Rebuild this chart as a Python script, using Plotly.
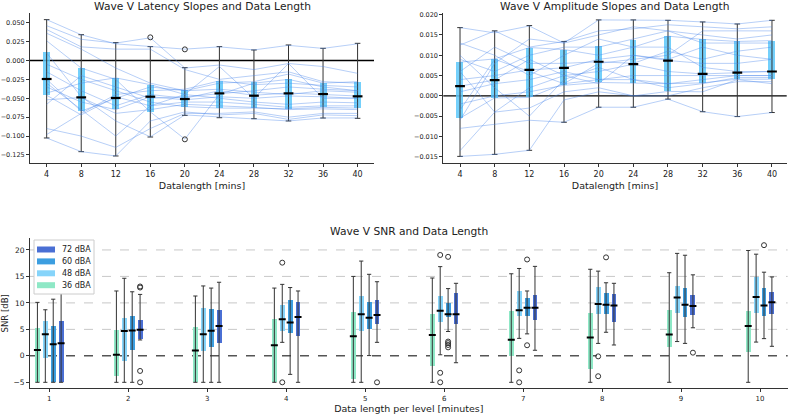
import plotly.graph_objects as go

# ---- top panels: data length (mins) ----
datalength = [4, 8, 12, 16, 20, 24, 28, 32, 36, 40]

# latency slopes: box stats
lat_lo = [-0.1025, -0.1206, -0.1263, -0.1012, -0.0726, -0.0757, -0.0770, -0.0800, -0.0761, -0.0765]
lat_q1 = [-0.0460, -0.0668, -0.0646, -0.0677, -0.0610, -0.0633, -0.0633, -0.0646, -0.0620, -0.0633]
lat_med = [-0.0245, -0.0488, -0.0496, -0.0479, -0.0510, -0.0435, -0.0466, -0.0435, -0.0444, -0.0474]
lat_q3 = [0.0108, -0.0104, -0.0236, -0.0320, -0.0390, -0.0272, -0.0290, -0.0250, -0.0302, -0.0285]
lat_hi = [0.0540, 0.0341, 0.0236, 0.0183, -0.0095, 0.0183, 0.0139, 0.0205, 0.0161, 0.0227]
lat_out_x = [16, 20, 20]
lat_out_y = [0.0306, 0.0147, -0.1043]

# latency slopes per subject
lat_subjects = [
    [0.054, 0.034, 0.022, 0.018, 0.015, 0.018, 0.014, 0.020, 0.016, 0.022],
    [0.046, 0.028, 0.023, 0.030, -0.010, -0.006, -0.012, -0.004, -0.008, -0.017],
    [0.041, 0.018, 0.015, 0.015, -0.012, -0.025, -0.020, -0.015, -0.028, -0.030],
    [0.036, 0.015, -0.010, -0.030, -0.040, -0.030, -0.028, -0.018, -0.030, -0.028],
    [0.026, -0.010, -0.025, -0.068, -0.104, -0.045, -0.030, -0.025, -0.035, -0.040],
    [0.010, -0.048, -0.080, -0.101, -0.072, -0.075, -0.077, -0.080, -0.076, -0.076],
    [-0.005, -0.025, -0.040, -0.055, -0.061, -0.063, -0.063, -0.064, -0.062, -0.063],
    [-0.015, -0.040, -0.060, -0.045, -0.050, -0.040, -0.046, -0.043, -0.045, -0.047],
    [-0.025, -0.067, -0.050, -0.035, -0.040, -0.038, -0.042, -0.045, -0.040, -0.042],
    [-0.035, -0.055, -0.065, -0.048, -0.052, -0.048, -0.050, -0.047, -0.048, -0.050],
    [-0.043, -0.030, -0.023, -0.032, -0.045, -0.050, -0.055, -0.058, -0.055, -0.056],
    [-0.046, -0.072, -0.048, -0.060, -0.055, -0.055, -0.058, -0.062, -0.060, -0.060],
    [-0.052, -0.049, -0.070, -0.065, -0.058, -0.060, -0.062, -0.065, -0.064, -0.065],
    [-0.058, -0.020, -0.035, -0.050, -0.048, -0.044, -0.040, -0.035, -0.038, -0.040],
    [-0.090, -0.100, -0.115, -0.090, -0.070, -0.070, -0.068, -0.075, -0.070, -0.070],
    [-0.1025, -0.1206, -0.1263, -0.080, -0.068, -0.072, -0.070, -0.078, -0.072, -0.073],
    [-0.098, -0.070, -0.045, -0.040, -0.038, -0.027, -0.032, -0.030, -0.033, -0.035],
    [-0.030, -0.065, -0.100, -0.060, -0.045, -0.008, -0.050, -0.004, -0.050, -0.050],
]

# amplitude slopes: box stats
amp_lo = [-0.0149, -0.0144, -0.0134, -0.0065, -0.0028, -0.0028, -0.0008, -0.0039, -0.0051, -0.0041]
amp_q1 = [-0.0055, -0.0005, -0.0004, 0.0026, 0.0033, 0.0032, 0.0011, 0.0032, 0.0041, 0.0041]
amp_med = [0.0024, 0.0039, 0.0064, 0.0069, 0.0084, 0.0078, 0.0087, 0.0054, 0.0057, 0.0060]
amp_q3 = [0.0083, 0.0091, 0.0119, 0.0114, 0.0123, 0.0137, 0.0147, 0.0139, 0.0134, 0.0136]
amp_hi = [0.0168, 0.0160, 0.0173, 0.0134, 0.0187, 0.0187, 0.0186, 0.0182, 0.0177, 0.0186]

amp_subjects = [
    [0.0168, 0.0155, 0.0172, 0.0130, 0.0187, 0.0187, 0.0186, 0.0182, 0.0177, 0.0186],
    [0.0125, 0.0160, 0.0120, 0.0134, 0.0160, 0.0165, 0.0175, 0.0170, 0.0165, 0.0170],
    [0.0090, 0.0060, 0.0100, 0.0120, 0.0120, 0.0140, 0.0160, 0.0150, 0.0140, 0.0150],
    [0.0083, 0.0091, 0.0119, 0.0114, 0.0100, 0.0120, 0.0147, 0.0139, 0.0134, 0.0136],
    [0.0060, 0.0120, 0.0080, 0.0080, 0.0084, 0.0080, 0.0110, 0.0090, 0.0110, 0.0120],
    [0.0040, 0.0050, 0.0064, 0.0069, 0.0090, 0.0100, 0.0087, 0.0080, 0.0080, 0.0090],
    [0.0024, 0.0039, 0.0090, 0.0050, 0.0060, 0.0078, 0.0060, 0.0054, 0.0057, 0.0060],
    [0.0010, 0.0030, 0.0040, 0.0060, 0.0040, 0.0050, 0.0050, 0.0050, 0.0050, 0.0050],
    [-0.0020, 0.0000, 0.0010, 0.0026, 0.0033, 0.0032, 0.0030, 0.0032, 0.0041, 0.0041],
    [-0.0055, -0.0005, -0.0004, 0.0030, 0.0040, 0.0040, 0.0020, 0.0030, 0.0045, 0.0045],
    [-0.0080, -0.0070, -0.0060, -0.0065, -0.0028, -0.0028, -0.0008, -0.0039, -0.0051, -0.0041],
    [-0.0149, -0.0144, -0.0134, -0.0010, 0.0010, 0.0000, 0.0011, 0.0010, 0.0040, 0.0030],
    [-0.0135, -0.0040, -0.0030, 0.0010, 0.0020, 0.0000, 0.0000, 0.0020, 0.0035, 0.0035],
    [0.0130, 0.0100, 0.0050, 0.0100, 0.0140, 0.0120, 0.0120, 0.0070, 0.0060, 0.0060],
    [-0.0060, 0.0080, 0.0140, 0.0130, 0.0150, 0.0170, 0.0160, 0.0130, 0.0130, 0.0130],
    [0.0100, 0.0020, -0.0050, 0.0040, 0.0070, 0.0040, 0.0030, 0.0040, 0.0050, 0.0050],
    [-0.0035, 0.0090, 0.0060, 0.0030, 0.0080, 0.0090, 0.0100, 0.0160, 0.0160, 0.0160],
    [0.0060, -0.0040, 0.0020, 0.0050, 0.0030, 0.0100, 0.0090, 0.0120, 0.0100, 0.0090],
]

# ---- bottom panel: SNR per level ----
minutes = [1, 2, 3, 4, 5, 6, 7, 8, 9, 10]
levels = ["36 dBA", "48 dBA", "60 dBA", "72 dBA"]
level_colors = ["#8ee8c6", "#86d4fa", "#3c9ee0", "#4a6fd4"]
level_offsets = [-0.15, -0.05, 0.05, 0.15]

snr_lo = [
    [-5, -5, -5, -5, -5, -5, -5, -5, -5, -5],
    [-5, -5, -5, 2.55, -5, 0.2, 3.3, 2.35, 2.7, 2.6],
    [-5, -5, -5, -3.5, 0.05, 4.6, 4.15, 4.45, 2.35, 3.25],
    [-5, 3.0, -5, -5, 2.55, -1.3, 1.05, 2.05, 5.3, 1.8],
]
snr_q1 = [
    [-5, -3.8, -5, -5, -4.4, -2.0, -0.05, -2.55, 1.55, 0.65],
    [-0.5, -1.1, 0.9, 4.6, 4.7, 6.35, 7.4, 7.85, 7.95, 8.05],
    [-5, 1.05, 1.55, 4.3, 4.95, 7.2, 7.4, 7.85, 7.35, 7.45],
    [-5, 3.1, 2.4, 3.7, 6.0, 6.0, 6.65, 6.35, 7.6, 7.85],
]
snr_med = [
    [1.1, 0.2, 1.0, 2.0, 3.7, 3.95, 3.05, 3.45, 4.05, 5.65],
    [4.1, 4.7, 4.1, 6.9, 7.85, 8.5, 8.6, 9.8, 11.0, 11.1],
    [2.2, 4.8, 4.75, 6.3, 7.2, 7.85, 9.1, 9.65, 9.65, 9.5],
    [2.4, 4.95, 5.65, 7.35, 7.7, 7.85, 9.1, 9.5, 9.4, 10.1],
]
snr_q3 = [
    [5.2, 4.9, 5.45, 6.85, 8.2, 7.85, 8.4, 7.95, 8.55, 8.5],
    [6.5, 7.1, 9.0, 9.6, 11.3, 11.25, 12.2, 13.0, 13.05, 14.8],
    [5.6, 7.5, 8.85, 10.4, 10.05, 9.9, 10.8, 11.75, 12.8, 12.75],
    [6.6, 6.7, 8.6, 10.1, 10.5, 11.8, 11.45, 11.6, 11.4, 12.05],
]
snr_hi = [
    [10.1, 12.25, 11.3, 12.8, 15.0, 14.7, 15.5, 16.35, 15.7, 19.9],
    [8.7, 14.65, 13.2, 13.5, 17.9, 16.85, 16.5, 16.0, 19.35, 19.2],
    [10.7, 12.1, 12.8, 12.9, 15.4, 12.7, 12.25, 13.8, 19.0, 15.8],
    [12.3, 11.6, 13.9, 12.25, 14.0, 13.7, 16.9, 13.7, 15.3, 14.9],
]
# outliers: (minutes, level index, SNR)
snr_outliers = [
    (2, 3, 13.1), (2, 3, 12.9), (2, 3, -2.85), (2, 3, -5),
    (4, 1, 17.6), (4, 1, -5), (5, 3, -5),
    (6, 1, 19.05), (6, 1, -3.2), (6, 1, -5),
    (6, 2, 18.7), (6, 2, 2.7), (6, 2, 2.4), (6, 2, 2.05), (6, 2, 1.6),
    (7, 1, -2.75), (7, 1, -5), (7, 2, 18.2), (7, 2, 2.0),
    (8, 1, -0.1), (8, 1, -3.85), (8, 2, 18.6),
    (9, 3, 0.6), (10, 2, 20.9),
]

FONT = "DejaVu Sans"
DARK = "#333333"


def add_boxes(fig, x, lo, q1, med, q3, hi, color, width, xa, ya, cap=4):
    fig.add_trace(go.Bar(x=x, y=[b - a for a, b in zip(q1, q3)], base=q1,
                         width=width, marker=dict(color=color, line=dict(width=0)),
                         showlegend=False, xaxis=xa, yaxis=ya, hoverinfo="skip"))
    wx, wy = [], []
    for xi, a, b in zip(x, lo, hi):
        wx += [xi, xi, None]
        wy += [a, b, None]
    fig.add_trace(go.Scatter(x=wx, y=wy, mode="lines", line=dict(color=DARK, width=1),
                             showlegend=False, xaxis=xa, yaxis=ya, hoverinfo="skip"))
    fig.add_trace(go.Scatter(x=list(x) + list(x), y=list(lo) + list(hi), mode="markers",
                             marker=dict(symbol="line-ew", size=cap,
                                         line=dict(color=DARK, width=1)),
                             showlegend=False, xaxis=xa, yaxis=ya, hoverinfo="skip"))


def add_medians(fig, x, med, px_width, xa, ya, lw=2.2):
    fig.add_trace(go.Scatter(x=x, y=med, mode="markers",
                             marker=dict(symbol="line-ew", size=px_width,
                                         line=dict(color="black", width=lw)),
                             showlegend=False, xaxis=xa, yaxis=ya, hoverinfo="skip"))


fig = go.Figure()

# top-left: latency
box_col = "rgba(92,200,250,0.85)"
line_col = "rgba(74,134,236,0.5)"
add_boxes(fig, datalength, lat_lo, lat_q1, lat_med, lat_q3, lat_hi, box_col, 0.8, "x", "y")
for s in lat_subjects:
    fig.add_trace(go.Scatter(x=datalength, y=s, mode="lines",
                             line=dict(color=line_col, width=0.8),
                             showlegend=False, xaxis="x", yaxis="y", hoverinfo="skip"))
add_medians(fig, datalength, lat_med, 7, "x", "y")
fig.add_trace(go.Scatter(x=lat_out_x, y=lat_out_y, mode="markers",
                         marker=dict(symbol="circle-open", size=5, color=DARK,
                                     line=dict(width=1)),
                         showlegend=False, xaxis="x", yaxis="y"))

# top-right: amplitude
add_boxes(fig, datalength, amp_lo, amp_q1, amp_med, amp_q3, amp_hi, box_col, 0.8, "x2", "y2")
for s in amp_subjects:
    fig.add_trace(go.Scatter(x=datalength, y=s, mode="lines",
                             line=dict(color=line_col, width=0.8),
                             showlegend=False, xaxis="x2", yaxis="y2", hoverinfo="skip"))
add_medians(fig, datalength, amp_med, 7, "x2", "y2")

# bottom: SNR
for i, lev in enumerate(levels):
    xs = [m + level_offsets[i] for m in minutes]
    add_boxes(fig, xs, snr_lo[i], snr_q1[i], snr_med[i], snr_q3[i], snr_hi[i],
              level_colors[i], 0.062, "x3", "y3", cap=3)
    add_medians(fig, xs, snr_med[i], 5, "x3", "y3", lw=2)
fig.add_trace(go.Scatter(x=[m + level_offsets[k] for m, k, v in snr_outliers],
                         y=[v for m, k, v in snr_outliers], mode="markers",
                         marker=dict(symbol="circle-open", size=5, color=DARK,
                                     line=dict(width=1)),
                         showlegend=False, xaxis="x3", yaxis="y3"))

W, H = 789, 415
px = lambda v: v / W
py = lambda v: 1 - v / H

axis_common = dict(showline=True, linecolor=DARK, linewidth=1, ticks="outside",
                   ticklen=3, tickcolor=DARK, showgrid=False, zeroline=False,
                   mirror=False, automargin=False)

annotations = [
    dict(text="Wave V Latency Slopes and Data Length", x=px(202), y=py(6)),
    dict(text="Wave V Amplitude Slopes and Data Length", x=px(615), y=py(6)),
    dict(text="Wave V SNR and Data Length", x=px(409), y=py(231)),
]
for a in annotations:
    a.update(xref="paper", yref="paper", showarrow=False, font=dict(size=10.7),
             xanchor="center", yanchor="middle")

shapes = [
    dict(type="line", xref="x domain", yref="y", x0=0, x1=1, y0=0, y1=0,
         line=dict(color="black", width=1.3), layer="below"),
    dict(type="line", xref="x2 domain", yref="y2", x0=0, x1=1, y0=0, y1=0,
         line=dict(color="black", width=1.3), layer="below"),
    dict(type="line", xref="x3 domain", yref="y3", x0=0, x1=1, y0=0, y1=0,
         line=dict(color="#555555", width=1.5, dash="dash"), layer="below"),
] + [
    dict(type="line", xref="x3 domain", yref="y3", x0=0, x1=1, y0=g, y1=g,
         line=dict(color="#c8c8c8", width=1, dash="dash"), layer="below")
    for g in [5, 10, 15, 20]
]

# legend box (top-left of SNR panel), entries from 72 dBA down to 36 dBA
shapes.append(dict(type="rect", xref="paper", yref="paper",
                   x0=px(34), x1=px(94), y0=py(294), y1=py(240),
                   fillcolor="white", line=dict(color="#cccccc", width=1), layer="above"))
for j, i in enumerate(reversed(range(len(levels)))):
    yc = 249.5 + 11.9 * j
    shapes.append(dict(type="rect", xref="paper", yref="paper",
                       x0=px(37), x1=px(55), y0=py(yc + 3), y1=py(yc - 3),
                       fillcolor=level_colors[i], line=dict(width=0), layer="above"))
    annotations.append(dict(text=levels[i], x=px(60), y=py(yc), xref="paper",
                            yref="paper", showarrow=False, xanchor="left",
                            yanchor="middle", font=dict(size=8)))

fig.update_layout(
    width=W, height=H, margin=dict(l=0, r=0, t=0, b=0),
    paper_bgcolor="white", plot_bgcolor="white",
    font=dict(family=FONT, color="#222"),
    barmode="overlay", bargap=0, showlegend=False,
    xaxis=dict(domain=[px(30), px(374)], range=[2.07, 41.9], anchor="y",
               tickvals=datalength, tickfont=dict(size=8),
               title=dict(text="Datalength [mins]", font=dict(size=9.5), standoff=4),
               **axis_common),
    yaxis=dict(domain=[py(163), py(13)], range=[-0.1356, 0.0628], anchor="x",
               tickvals=[0.05, 0.025, 0, -0.025, -0.05, -0.075, -0.1, -0.125],
               tickformat=".3f", tickfont=dict(size=6.5), **axis_common),
    xaxis2=dict(domain=[px(443.3), px(786.7)], range=[2.07, 41.7], anchor="y2",
                tickvals=datalength, tickfont=dict(size=8),
                title=dict(text="Datalength [mins]", font=dict(size=9.5), standoff=4),
                **axis_common),
    yaxis2=dict(domain=[py(163.3), py(13)], range=[-0.0166, 0.0204], anchor="x2",
                tickvals=[0.02, 0.015, 0.01, 0.005, 0, -0.005, -0.01, -0.015],
                tickformat=".3f", tickfont=dict(size=6.5), **axis_common),
    xaxis3=dict(domain=[px(30), px(787.7)], range=[0.756, 10.35], anchor="y3",
                tickvals=minutes, tickfont=dict(size=7),
                title=dict(text="Data length per level [minutes]", font=dict(size=9.5),
                           standoff=3),
                **axis_common),
    yaxis3=dict(domain=[py(388.3), py(238.3)], range=[-6.13, 22.2], anchor="x3",
                tickvals=[-5, 0, 5, 10, 15, 20], tickfont=dict(size=7.5),
                title=dict(text="SNR [dB]", font=dict(size=8.5), standoff=4),
                **axis_common),
    annotations=annotations,
    shapes=shapes,
)

fig.write_html("out.html", config={"displayModeBar": False},
               post_script="document.body.style.margin='0px';")
